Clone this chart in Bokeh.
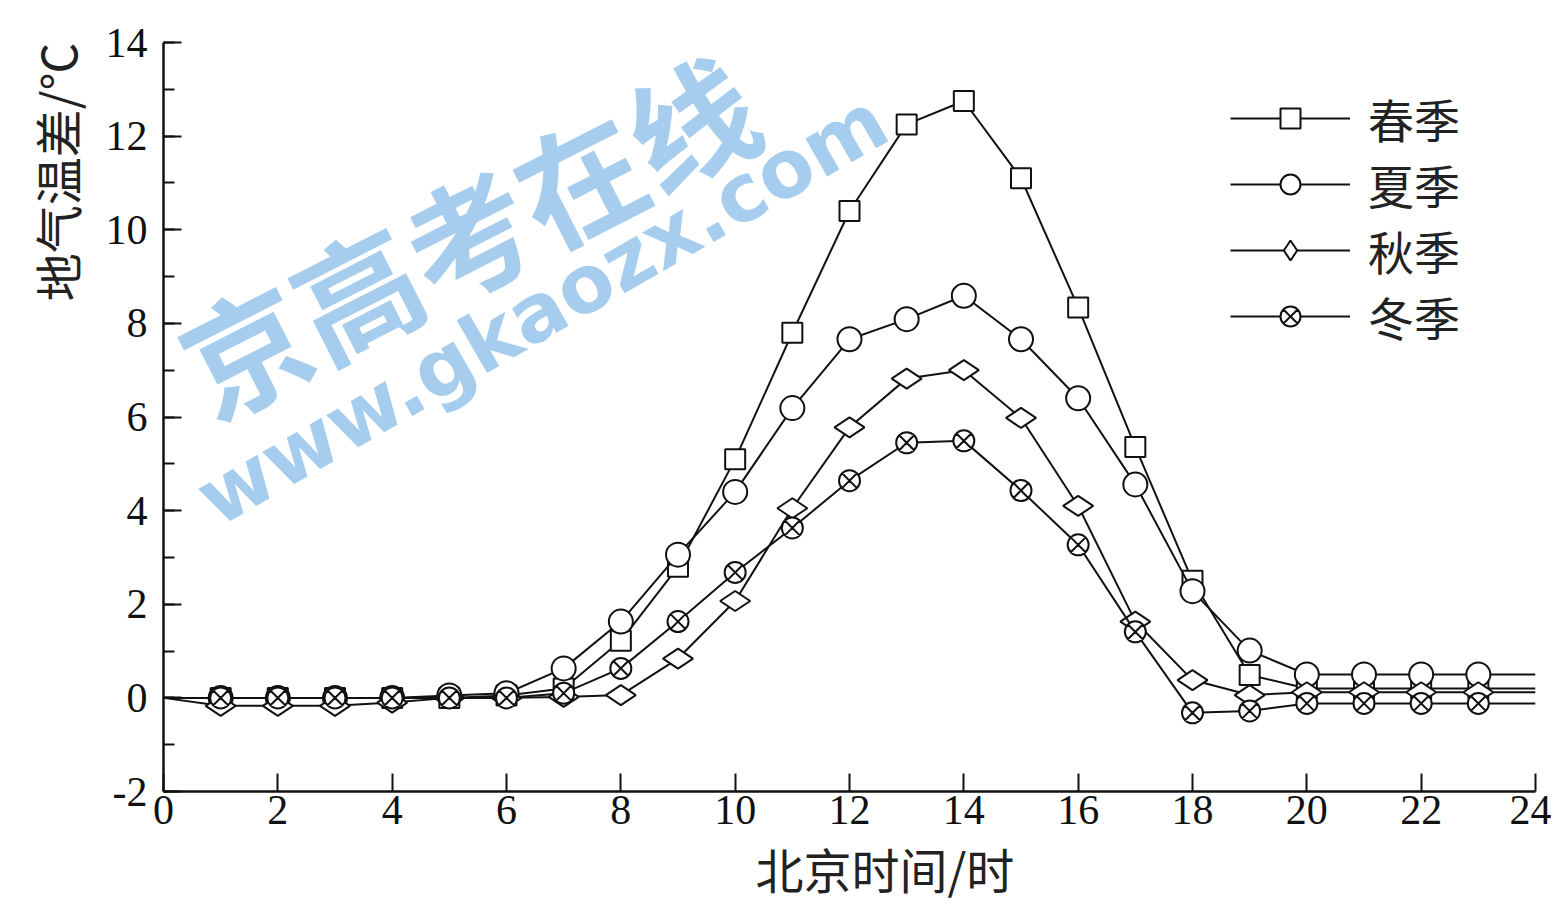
import math
from bokeh.plotting import figure
from bokeh.models import Range1d, FixedTicker, Legend, LegendItem, Label, Title
from bokeh.embed import file_html
from bokeh.resources import INLINE

# ---------------- data ----------------
hours = list(range(0, 25))          # line runs 0..24, markers at 1..23
spring = [0, 0, 0, 0, 0, 0, 0.05, 0.2, 1.22, 2.8, 5.1, 7.8, 10.4, 12.25, 12.75, 11.1, 8.34, 5.36, 2.5, 0.49, 0.2, 0.2, 0.2, 0.2, 0.2]
summer = [0, 0, 0, 0, 0, 0.05, 0.1, 0.63, 1.63, 3.06, 4.4, 6.19, 7.66, 8.09, 8.59, 7.66, 6.4, 4.56, 2.28, 1.01, 0.5, 0.5, 0.5, 0.5, 0.5]
autumn = [0, -0.17, -0.17, -0.17, -0.1, 0, 0, 0.02, 0.06, 0.84, 2.07, 4.05, 5.78, 6.82, 7.0, 5.98, 4.1, 1.63, 0.38, 0.06, 0.12, 0.12, 0.12, 0.12, 0.12]
winter = [0, 0, 0, 0, 0, 0, 0, 0.1, 0.63, 1.63, 2.68, 3.63, 4.64, 5.45, 5.49, 4.43, 3.27, 1.41, -0.32, -0.28, -0.12, -0.12, -0.12, -0.12, -0.12]
series_names = ["春季", "夏季", "秋季", "冬季"]
x_ticks = list(range(0, 25, 2))
y_ticks = list(range(-2, 15, 2))
y_minor = list(range(-2, 15, 1))
x_title = "北京时间/时"
y_title = "地气温差/℃"
wm_big = "京高考在线"
wm_url = "www.gkaozx.com"

p = figure(width=1551, height=906, output_backend="svg", toolbar_location=None,
           x_range=Range1d(0, 24), y_range=Range1d(-2, 14),
           min_border_left=163, min_border_right=16, min_border_top=42, min_border_bottom=106)
p.background_fill_color = "white"
p.border_fill_color = "white"
p.outline_line_color = None
p.xgrid.grid_line_color = None
p.ygrid.grid_line_color = None

for ax in (p.xaxis[0], p.yaxis[0]):
    ax.axis_line_width = 2.5
    ax.axis_line_color = "#111111"
    ax.major_tick_in = 18
    ax.major_tick_out = 0
    ax.major_tick_line_width = 2
    ax.major_tick_line_color = "#111111"
    ax.major_label_text_font = "Liberation Serif"
    ax.major_label_text_font_size = "42px"
    ax.major_label_text_color = "#111111"

p.xaxis.ticker = FixedTicker(ticks=x_ticks)
p.xaxis.minor_tick_line_color = None
p.xaxis.major_label_standoff = 4
p.yaxis.ticker = FixedTicker(ticks=y_ticks, minor_ticks=y_minor)
p.yaxis.major_label_overrides = {-2: "-2"}
p.yaxis.minor_tick_in = 11
p.yaxis.minor_tick_out = 0
p.yaxis.minor_tick_line_width = 2
p.yaxis.minor_tick_line_color = "#111111"
p.yaxis.major_label_standoff = 16

# watermark (kept fully inside the plot frame)
p.add_layout(Label(x=5.3, y=9.95, text=wm_big, text_font="Noto Sans CJK SC",
                   text_font_style="bold", text_font_size="125px", text_color="#a6cdee",
                   angle=math.radians(27),
                   text_align="center", text_baseline="middle"))
p.add_layout(Label(x=6.62, y=8.3, text=wm_url, text_font="DejaVu Sans",
                   text_font_style="bold", text_font_size="80px", text_color="#a6cdee",
                   angle=math.radians(30),
                   text_align="center", text_baseline="middle"))

mk_x = hours[1:-1]
specs = [
    (spring, "square", 20, 0),
    (summer, "circle", 24, 0),
    (autumn, "diamond", 30, math.pi / 2),
    (winter, "circle_x", 21, 0),
]
items = []
for (vals, marker, size, ang), name in zip(specs, series_names):
    lr = p.line(hours, vals, line_color="#111111", line_width=2)
    mr = p.scatter(mk_x, vals[1:-1], marker=marker, size=size, angle=ang,
                   fill_color="white", line_color="#111111", line_width=2)
    items.append(LegendItem(label=name, renderers=[lr, mr]))

legend = Legend(items=items, location=(1067, 442), orientation="vertical",
                glyph_width=120, glyph_height=50, label_height=60, spacing=0,
                padding=0, margin=0,
                label_standoff=18, label_text_font="Noto Sans CJK SC",
                label_text_font_size="46px", label_text_color="#222222",
                border_line_color=None, background_fill_alpha=0)
p.add_layout(legend, "center")

p.add_layout(Title(text=x_title, text_font="Noto Sans CJK SC", text_font_size="48px",
                   text_font_style="normal", text_color="#222222",
                   align="left", offset=592, standoff=8), "below")
p.add_layout(Title(text=y_title, text_font="Noto Sans CJK SC", text_font_size="48px",
                   text_font_style="normal", text_color="#222222",
                   align="right", offset=0, standoff=24), "left")

open("out.html", "w").write(file_html(p, INLINE))
